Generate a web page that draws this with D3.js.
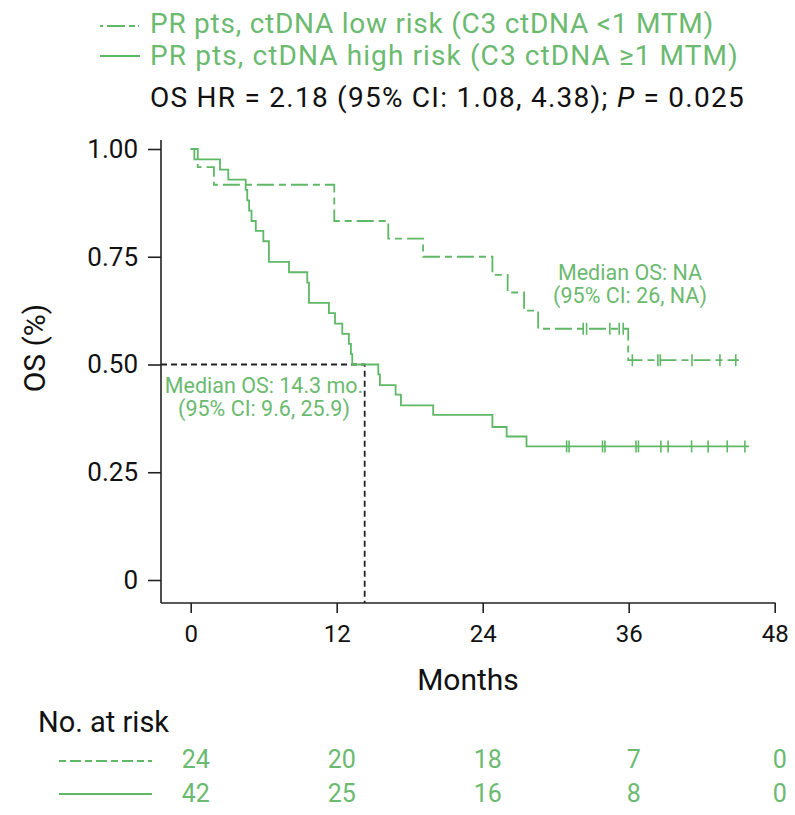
<!DOCTYPE html>
<html>
<head>
<meta charset="utf-8">
<script src="https://cdn.jsdelivr.net/npm/d3@7"></script>
<style>
  body { margin: 0; background: #fff; }
  svg text { font-family: Roboto, "Liberation Sans", sans-serif; }
</style>
</head>
<body>
<svg id="chart" width="795" height="815"></svg>
<script>
// data
const lowTimes = [0, 0.58, 1.91, 11.8, 16.24, 19.1, 24.8, 26.05, 27.4, 28.56, 35.96];
const lowSurv = [1.0, 0.958, 0.917, 0.833, 0.792, 0.750, 0.708, 0.667, 0.625, 0.583, 0.510];
const lowEnd = 45.05;
const lowCensor = [32.26, 32.54, 34.45, 35.22, 35.55, 36.3, 38.4, 38.6, 41.2, 43.5, 44.8];

const highTimes = [0, 0.3, 2.41, 3.09, 4.52, 4.65, 4.8, 5.0, 5.35, 5.97, 6.43, 8.08, 9.58, 9.72,
  11.36, 11.86, 12.46, 13.0, 13.17, 13.28, 15.42, 15.55, 16.84, 17.28, 19.93, 24.8, 25.97, 27.6];
const highSurv = [1.0, 0.976, 0.952, 0.929, 0.905, 0.881, 0.857, 0.833, 0.810, 0.786, 0.738, 0.714, 0.690, 0.643,
  0.619, 0.595, 0.571, 0.548, 0.524, 0.500, 0.477, 0.452, 0.430, 0.405, 0.383, 0.355, 0.333, 0.310];
const highEnd = 45.9;
const highCensor = [30.9, 31.1, 33.85, 34.05, 36.6, 36.8, 38.64, 39.24, 41.17, 42.53, 44.1, 45.55];

const xTicks = [0, 12, 24, 36, 48];
const yTicks = [0, 0.25, 0.5, 0.75, 1.0];
const yTickLabels = ['0', '0.25', '0.50', '0.75', '1.00'];
const riskLow = [24, 20, 18, 7, 0];
const riskHigh = [42, 25, 16, 8, 0];
const medianHigh = 14.3;

const legendLow = 'PR pts, ctDNA low risk (C3 ctDNA <1 MTM)';
const legendHigh = 'PR pts, ctDNA high risk (C3 ctDNA \u22651 MTM)';

const GREEN = '#5fb866';
const TEXT_GREEN = '#6bba70';
const INK = '#222';
const LOW_DASH = '17,5,7,5';

const svg = d3.select('#chart');

const x = d3.scaleLinear().domain([0, 48]).range([190.7, 774.7]);
const y = d3.scaleLinear().domain([0, 1]).range([580, 149]);
const axisX0 = 161, axisY0 = 603;

// ---- legend
const leg = svg.append('g').attr('font-size', 28).attr('letter-spacing', 0.75);
leg.append('line').attr('x1', 100).attr('x2', 139).attr('y1', 26).attr('y2', 26)
  .attr('stroke', GREEN).attr('stroke-width', 1.8).attr('stroke-dasharray', '3,4,18,4,6');
leg.append('text').attr('x', 150).attr('y', 33).attr('fill', TEXT_GREEN).text(legendLow);
leg.append('line').attr('x1', 100).attr('x2', 140).attr('y1', 56).attr('y2', 56)
  .attr('stroke', GREEN).attr('stroke-width', 1.8);
leg.append('text').attr('x', 150).attr('y', 65).attr('fill', TEXT_GREEN).attr('letter-spacing', 1.1).text(legendHigh);

const hr = leg.append('text').attr('x', 150).attr('y', 107).attr('fill', '#111').attr('letter-spacing', 1.25);
hr.append('tspan').text('OS HR = 2.18 (95% CI: 1.08, 4.38); ');
hr.append('tspan').attr('font-style', 'italic').text('P');
hr.append('tspan').text(' = 0.025');

// ---- axes
svg.append('line').attr('x1', axisX0).attr('x2', axisX0).attr('y1', 140).attr('y2', axisY0)
  .attr('stroke', INK).attr('stroke-width', 1.6);
svg.append('line').attr('x1', axisX0).attr('x2', x(48) + 0.8).attr('y1', axisY0).attr('y2', axisY0)
  .attr('stroke', INK).attr('stroke-width', 1.6);

const gx = svg.append('g').attr('transform', `translate(0,${axisY0})`)
  .call(d3.axisBottom(x).tickValues(xTicks).tickSize(10).tickPadding(12).tickFormat(d3.format('d')));
gx.select('.domain').remove();
gx.selectAll('.tick line').attr('stroke', INK).attr('stroke-width', 1.6);
gx.selectAll('.tick text').attr('font-size', 24).attr('fill', '#111').attr('font-family', 'Roboto');

const gy = svg.append('g').attr('transform', `translate(${axisX0},0)`)
  .call(d3.axisLeft(y).tickValues(yTicks).tickSize(13).tickPadding(10).tickFormat((d, i) => yTickLabels[i]));
gy.select('.domain').remove();
gy.selectAll('.tick line').attr('stroke', INK).attr('stroke-width', 1.6);
gy.selectAll('.tick text').attr('font-size', 26).attr('fill', '#111').attr('font-family', 'Roboto');

svg.append('text').attr('x', 468).attr('y', 690).attr('text-anchor', 'middle')
  .attr('font-size', 30).attr('fill', '#111').text('Months');
svg.append('text').attr('transform', 'translate(45,348) rotate(-90)').attr('text-anchor', 'middle')
  .attr('font-size', 30).attr('fill', '#111').text('OS (%)');

// ---- median reference lines
svg.append('path')
  .attr('d', `M${axisX0},${y(0.5)}H${x(medianHigh)}V${axisY0}`)
  .attr('fill', 'none').attr('stroke', INK).attr('stroke-width', 1.8).attr('stroke-dasharray', '6,4');

// ---- KM curves
function stepPath(times, surv, end) {
  const pts = times.map((t, i) => [t, surv[i]]);
  pts.push([end, surv[surv.length - 1]]);
  return d3.line().x(d => x(d[0])).y(d => y(d[1])).curve(d3.curveStepAfter)(pts);
}
function survAt(times, surv, t) {
  const i = d3.bisectRight(times, t) - 1;
  return surv[Math.max(0, i)];
}

svg.append('path').attr('d', stepPath(highTimes, highSurv, highEnd))
  .attr('fill', 'none').attr('stroke', GREEN).attr('stroke-width', 1.8);
svg.append('path').attr('d', stepPath(lowTimes, lowSurv, lowEnd))
  .attr('fill', 'none').attr('stroke', GREEN).attr('stroke-width', 1.8).attr('stroke-dasharray', LOW_DASH);

svg.append('g').selectAll('line').data(highCensor).join('line')
  .attr('x1', d => x(d)).attr('x2', d => x(d))
  .attr('y1', d => y(survAt(highTimes, highSurv, d)) - 6)
  .attr('y2', d => y(survAt(highTimes, highSurv, d)) + 6)
  .attr('stroke', GREEN).attr('stroke-width', 1.6);
svg.append('g').selectAll('line').data(lowCensor).join('line')
  .attr('x1', d => x(d)).attr('x2', d => x(d))
  .attr('y1', d => y(survAt(lowTimes, lowSurv, d)) - 6)
  .attr('y2', d => y(survAt(lowTimes, lowSurv, d)) + 6)
  .attr('stroke', GREEN).attr('stroke-width', 1.6);

// ---- median annotations
const ann = [
  { cx: 264, y0: 393, lines: ['Median OS: 14.3 mo.', '(95% CI: 9.6, 25.9)'] },
  { cx: 630, y0: 280, lines: ['Median OS: NA', '(95% CI: 26, NA)'] }
];
ann.forEach(a => {
  const t = svg.append('text').attr('text-anchor', 'middle').attr('font-size', 21.5).attr('fill', TEXT_GREEN);
  a.lines.forEach((s, i) => t.append('tspan').attr('x', a.cx).attr('y', a.y0 + i * 23).text(s));
});

// ---- number at risk
svg.append('text').attr('x', 38).attr('y', 732).attr('font-size', 29).attr('fill', '#111').text('No. at risk');
svg.append('line').attr('x1', 59).attr('x2', 152).attr('y1', 761).attr('y2', 761)
  .attr('stroke', GREEN).attr('stroke-width', 1.8).attr('stroke-dasharray', '7,4,11,4');
svg.append('line').attr('x1', 59).attr('x2', 152).attr('y1', 794).attr('y2', 794)
  .attr('stroke', GREEN).attr('stroke-width', 1.8);

[[riskLow, 768], [riskHigh, 802]].forEach(([vals, yy]) => {
  svg.append('g').selectAll('text').data(vals).join('text')
    .attr('x', (d, i) => x(xTicks[i]) + 5).attr('y', yy)
    .attr('text-anchor', 'middle').attr('font-size', 25).attr('fill', TEXT_GREEN)
    .text(d => d);
});
</script>
</body>
</html>
